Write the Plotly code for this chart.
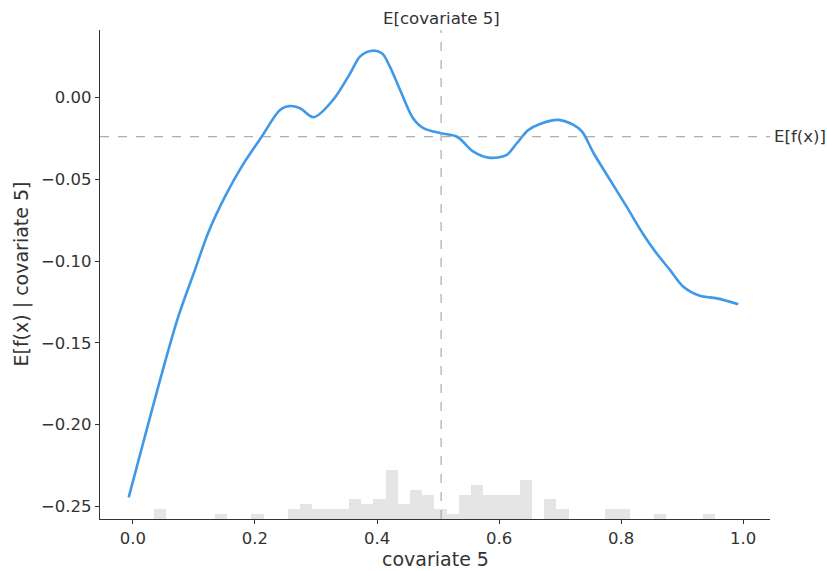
import plotly.graph_objects as go

# ---- data ----
curve_x = [-0.007, 0.0497, 0.0743, 0.1016, 0.1235, 0.1508, 0.1782, 0.211, 0.241,
           0.257, 0.274, 0.296, 0.328, 0.356, 0.372, 0.389, 0.408, 0.421, 0.438, 0.459,
           0.476, 0.505, 0.531, 0.558, 0.583, 0.612, 0.629, 0.648, 0.667, 0.697, 0.722,
           0.736, 0.755, 0.782, 0.809, 0.837, 0.858, 0.880, 0.902, 0.929, 0.957, 0.992]
curve_y = [-0.2446, -0.1656, -0.1340, -0.1054, -0.0825, -0.0606, -0.0422, -0.0239,
           -0.0075, -0.0051, -0.0065, -0.0120, -0.0014, 0.0149, 0.0251, 0.0286, 0.0272,
           0.0190, 0.0045, -0.0126, -0.0187, -0.0218, -0.0239, -0.0330, -0.0367, -0.0351,
           -0.0279, -0.0198, -0.0161, -0.0136, -0.0167, -0.0208, -0.0340, -0.0504, -0.0667,
           -0.0840, -0.0952, -0.1054, -0.1157, -0.1212, -0.1228, -0.1264]

hist_start = -0.006
hist_width = 0.02
hist_counts = [0, 0, 2, 0, 0, 0, 0, 1, 0, 0,
               1, 0, 0, 2, 3, 2, 2, 2, 4, 3,
               4, 10, 3, 6, 5, 2, 1, 5, 7, 5,
               5, 5, 8, 0, 4, 2, 0, 0, 0, 2,
               2, 0, 0, 1, 0, 0, 0, 1, 0, 0]
hist_total = 100

expected_x = 0.505
expected_fx = -0.0239

x_ticks = [0.0, 0.2, 0.4, 0.6, 0.8, 1.0]
y_ticks = [0.0, -0.05, -0.10, -0.15, -0.20, -0.25]

feature = "covariate 5"

# ---- figure ----
bin_centers = [hist_start + hist_width * (i + 0.5) for i in range(len(hist_counts))]

fig = go.Figure()
fig.add_trace(go.Bar(
    x=bin_centers, y=hist_counts, width=hist_width,
    marker=dict(color="rgba(0,0,0,0.1)", line=dict(width=0)),
    yaxis="y", hoverinfo="skip", showlegend=False))
fig.add_trace(go.Scatter(
    x=curve_x, y=curve_y, mode="lines", yaxis="y2",
    line=dict(color="#1E88E5", width=2.6, shape="spline", smoothing=0.9),
    opacity=0.85, showlegend=False))

axis_color = "#333333"
font = "DejaVu Sans"

fig.update_layout(
    width=827, height=571,
    margin=dict(l=100, r=57, t=30, b=52, autoexpand=False),
    paper_bgcolor="white", plot_bgcolor="white",
    font=dict(family=font, size=16, color=axis_color),
    bargap=0,
    xaxis=dict(
        range=[-0.054, 1.044], tickvals=x_ticks, tickformat=".1f", automargin=False,
        showgrid=False, zeroline=False, showline=True, linecolor=axis_color, linewidth=1.2,
        ticks="outside", ticklen=4, tickcolor=axis_color, tickfont=dict(size=16.5),
    ),
    yaxis=dict(range=[0, hist_total], visible=False, fixedrange=True),
    yaxis2=dict(
        overlaying="y", side="left", anchor="x", automargin=False,
        range=[-0.2578, 0.0414], tickvals=y_ticks, tickformat=".2f",
        showgrid=False, zeroline=False, showline=True, linecolor=axis_color, linewidth=1.2,
        ticks="outside", ticklen=4, tickcolor=axis_color, tickfont=dict(size=16.5),
    ),
    shapes=[
        dict(type="line", xref="x", yref="paper", x0=expected_x, x1=expected_x, y0=0, y1=1,
             line=dict(color="#999999", width=1, dash="dash")),
        dict(type="line", xref="paper", yref="y2", x0=0, x1=1, y0=expected_fx, y1=expected_fx,
             line=dict(color="#999999", width=1, dash="dash")),
    ],
    annotations=[
        dict(text="E[" + feature + "]", xref="x", yref="paper", x=expected_x, y=1,
             yanchor="middle", xanchor="center", yshift=12, showarrow=False,
             font=dict(size=16.6, color=axis_color)),
        dict(text="E[f(x)]", xref="paper", yref="y2", x=1, y=expected_fx,
             xanchor="left", yanchor="middle", xshift=2, showarrow=False,
             font=dict(size=16.6, color=axis_color)),
        dict(text=feature, xref="paper", yref="paper", x=0.5, y=0,
             xanchor="center", yanchor="middle", yshift=-40, showarrow=False,
             font=dict(size=19, color=axis_color)),
        dict(text="E[f(x) | " + feature + "]", xref="paper", yref="paper", x=0, y=0.5,
             xanchor="center", yanchor="middle", xshift=-79, textangle=-90, showarrow=False,
             font=dict(size=19, color=axis_color)),
    ],
)

fig.write_html(
    "out.html",
    config={"displayModeBar": False},
    post_script="document.body.style.margin='0';document.body.style.padding='0';",
)
